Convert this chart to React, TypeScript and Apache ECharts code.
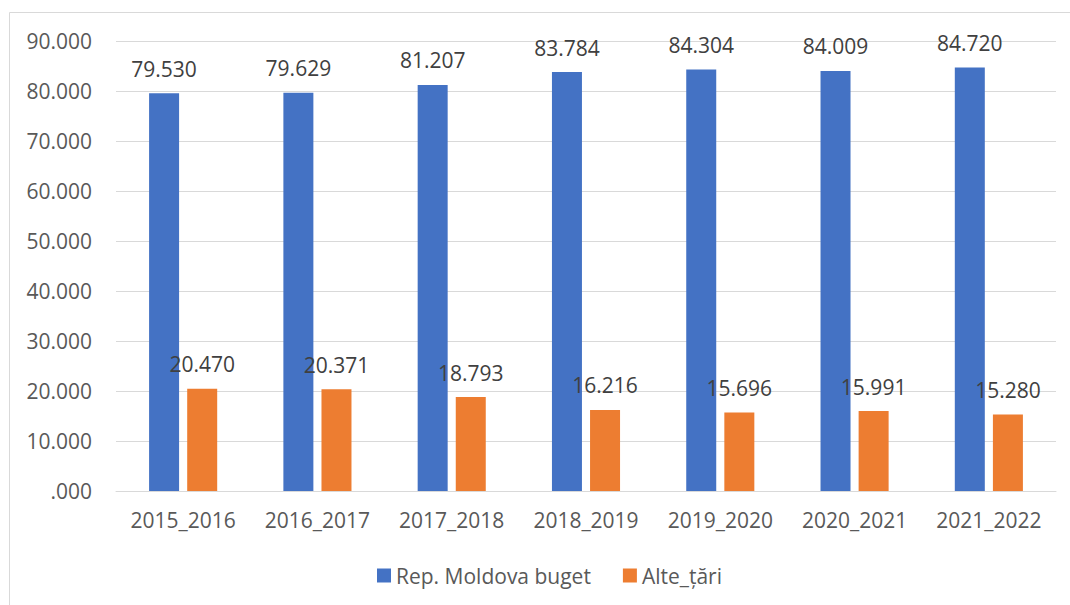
import React, { useEffect, useRef } from "react";
import * as echarts from "echarts";

const categories = ["2015_2016", "2016_2017", "2017_2018", "2018_2019", "2019_2020", "2020_2021", "2021_2022"];
const moldova = [79530, 79629, 81207, 83784, 84304, 84009, 84720];
const alte = [20470, 20371, 18793, 16216, 15696, 15991, 15280];
const seriesNames = ["Rep. Moldova buget", "Alte_țări"];

const fmt = (v: number) => {
  const s = (v / 1000).toFixed(3);
  return s.startsWith("0.") ? s.slice(1) : s;
};

const FONT = "'Open Sans', 'Noto Sans', sans-serif";

export default function App() {
  const ref = useRef<HTMLDivElement>(null);
  useEffect(() => {
    if (!ref.current) return;
    const chart = echarts.init(ref.current, undefined, { renderer: "svg" });
    chart.setOption({
      animation: false,
      textStyle: { fontFamily: FONT },
      graphic: [
        {
          type: "rect",
          shape: { x: 9.5, y: 12.5, width: 1070, height: 600 },
          style: { fill: "none", stroke: "#d9d9d9", lineWidth: 1 },
          silent: true,
        },
      ],
      grid: { left: 116, right: 14, top: 41, bottom: 114, containLabel: false },
      legend: {
        bottom: 14,
        left: 372,
        padding: 5,
        icon: "rect",
        itemWidth: 14,
        itemHeight: 14,
        itemGap: 32,
        textStyle: { fontSize: 21, color: "#595959", fontFamily: FONT },
        data: seriesNames,
      },
      xAxis: {
        type: "category",
        data: categories,
        axisTick: { show: false },
        axisLine: { lineStyle: { color: "#d9d9d9" } },
        axisLabel: { interval: 0, fontSize: 21, color: "#595959", margin: 18, fontFamily: FONT },
      },
      yAxis: {
        type: "value",
        min: 0,
        max: 90000,
        interval: 10000,
        axisLine: { show: false },
        axisTick: { show: false },
        splitLine: { lineStyle: { color: "#d9d9d9", width: 1 } },
        axisLabel: { fontSize: 21, color: "#595959", margin: 24, fontFamily: FONT, formatter: (v: number) => fmt(v) },
      },
      series: [
        {
          name: seriesNames[0],
          type: "bar",
          data: moldova,
          barWidth: 30,
          barGap: "27%",
          itemStyle: { color: "#4472C4" },
          label: {
            show: true,
            position: "top",
            distance: 14,
            fontSize: 21,
            color: "#404040",
            fontFamily: FONT,
            formatter: (p: any) => fmt(p.value),
          },
        },
        {
          name: seriesNames[1],
          type: "bar",
          data: alte,
          barWidth: 30,
          itemStyle: { color: "#ED7D31" },
          label: {
            show: true,
            position: "top",
            distance: 14,
            fontSize: 21,
            color: "#404040",
            fontFamily: FONT,
            formatter: (p: any) => fmt(p.value),
          },
        },
      ],
    });
    return () => chart.dispose();
  }, []);
  return <div ref={ref} style={{ position: "absolute", left: 0, top: 0, width: 1070, height: 605 }} />;
}
